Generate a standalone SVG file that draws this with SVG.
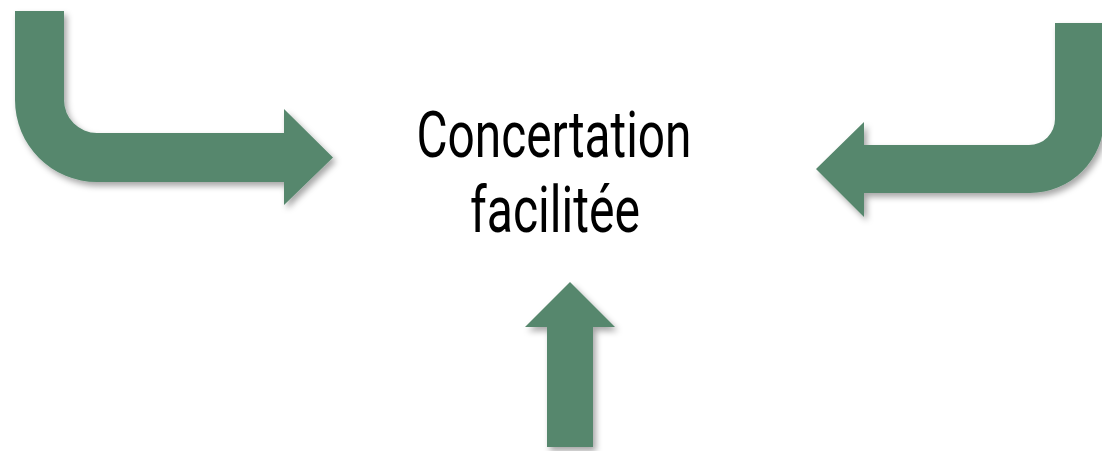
<svg xmlns="http://www.w3.org/2000/svg" width="1102" height="451" viewBox="0 0 1102 451">
<defs>
<filter id="sh" x="-10%" y="-10%" width="130%" height="130%">
<feDropShadow dx="3" dy="4" stdDeviation="3" flood-color="#000" flood-opacity="0.35"/>
</filter>
<style>
.arrow{fill:#56876d;filter:url(#sh)}
.lbl{font-family:Roboto,"Liberation Sans",Arial,sans-serif;font-weight:400;font-size:64px;fill:#000;text-anchor:middle}
</style>
</defs>
<rect width="1102" height="451" fill="#fff"/>
<g id="connectors">
<path id="arrow-left" class="arrow" d="M15,11 H64 V100 A33,33 0 0 0 97,133 H284 V109 L333,157.5 L284,205 V182 H97 A82,82 0 0 1 15,100 Z"/>
<path id="arrow-right" class="arrow" d="M1055,23 H1104 V119 A74,74 0 0 1 1030,193 H864 V217 L816,169 L864,122 V145 H1029 A26,26 0 0 0 1055,119 Z"/>
<path id="arrow-bottom" class="arrow" d="M547,447 V327 H525 L570,282 L615,327 H593 V447 Z"/>
</g>
<g id="node-center">
<text class="lbl" x="554" y="157" textLength="275" lengthAdjust="spacingAndGlyphs">Concertation</text>
<text class="lbl" x="555" y="232" textLength="170" lengthAdjust="spacingAndGlyphs">facilitée</text>
</g>
</svg>
